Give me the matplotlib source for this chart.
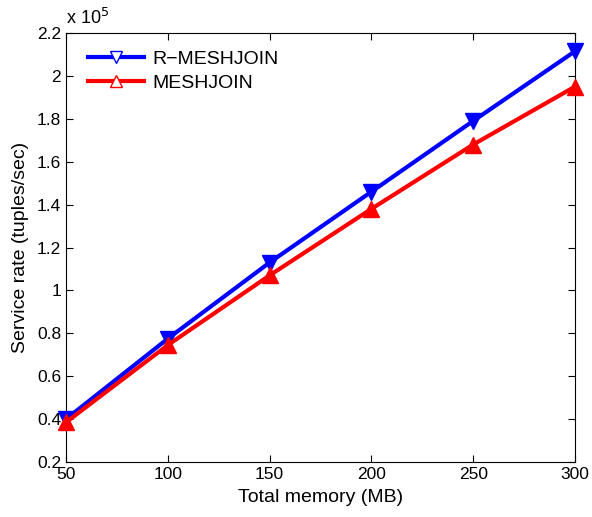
import numpy as np
import matplotlib.pyplot as plt
from matplotlib.lines import Line2D

plt.rcParams['font.family'] = ['Liberation Sans', 'DejaVu Sans']

memory = [50, 100, 150, 200, 250, 300]
r_meshjoin = [0.40, 0.775, 1.13, 1.46, 1.79, 2.115]
meshjoin = [0.385, 0.745, 1.07, 1.38, 1.68, 1.95]

fig = plt.figure(figsize=(5.92, 5.17), dpi=100)
ax = fig.add_axes([66/592, 1-462/517, (575-66)/592, (462-33)/517])

ax.plot(memory, r_meshjoin, color='blue', lw=3, marker='v', ms=12, mfc='blue', mec='blue', clip_on=False, zorder=3)
ax.plot(memory, meshjoin, color='red', lw=3, marker='^', ms=12, mfc='red', mec='red', clip_on=False, zorder=3)

ax.set_xlim(50, 300)
ax.set_ylim(0.2, 2.2)
ax.set_xticks(memory)
ax.set_yticks(np.arange(0.2, 2.21, 0.2))
ax.set_yticklabels(['0.2', '0.4', '0.6', '0.8', '1', '1.2', '1.4', '1.6', '1.8', '2', '2.2'])
ax.tick_params(direction='in', top=True, right=True, labelsize=12.5, length=5, width=0.8)
for s in ax.spines.values():
    s.set_linewidth(0.8)

ax.set_xlabel('Total memory (MB)', fontsize=14, labelpad=5)
ax.set_ylabel('Service rate (tuples/sec)', fontsize=14, labelpad=6)
ax.text(0, 1.012, r'x 10$^5$', transform=ax.transAxes, fontsize=13, ha='left', va='bottom')

handles = [
    Line2D([], [], color='blue', lw=3, marker='v', ms=9, mfc='white', mec='blue', mew=1),
    Line2D([], [], color='red', lw=3, marker='^', ms=9, mfc='white', mec='red', mew=1),
]
ax.legend(handles, ['R\u2212MESHJOIN', 'MESHJOIN'], loc='upper left', bbox_to_anchor=(0.008, 1.0),
          frameon=False, fontsize=14, handlelength=2.9, handletextpad=0.45, labelspacing=0.3)

fig.savefig('out.png', dpi=100)
